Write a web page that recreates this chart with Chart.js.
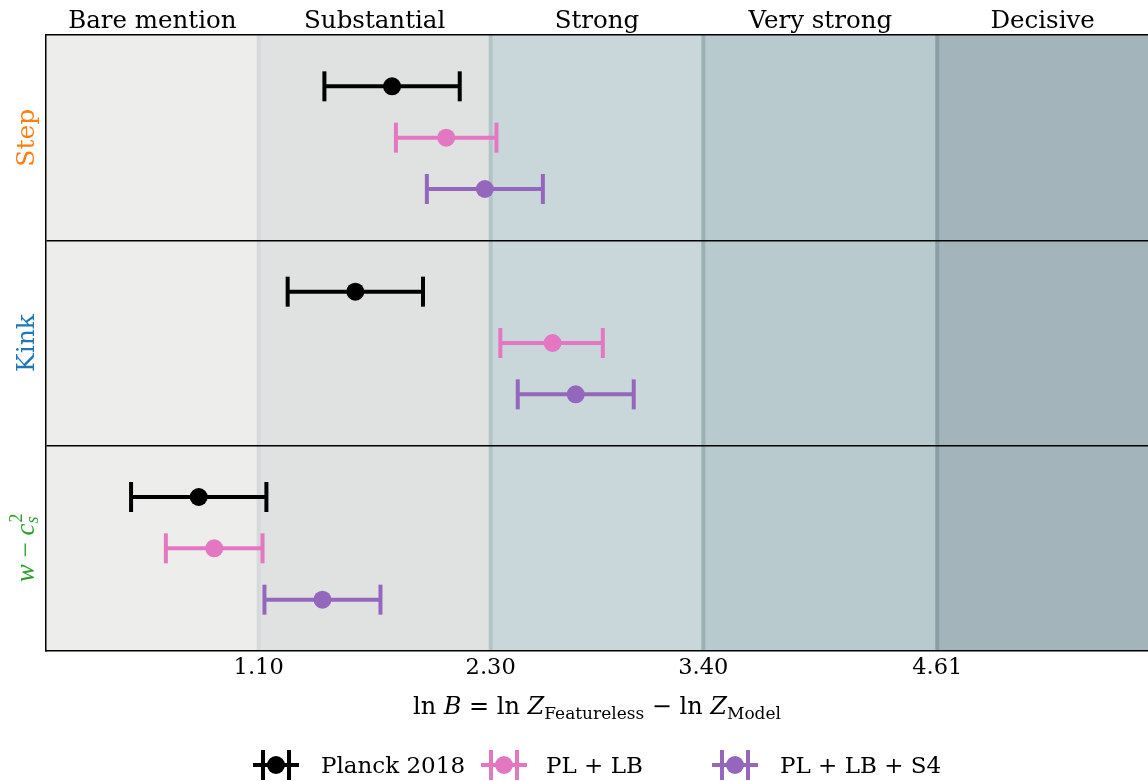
<!DOCTYPE html>
<html>
<head>
<meta charset="utf-8">
<script src="https://cdn.jsdelivr.net/npm/chart.js@4.4.1/dist/chart.umd.min.js"></script>
<style>
    body { margin: 0; background: #fff; overflow: hidden; }
    #wrap { position: relative; width: 1148px; height: 781px; overflow: hidden; }
    #chart { position: absolute; left: 0; top: 0; }
    .leg-icon { position: absolute; top: 749px; }
    .leg-text { position: absolute; top: 751px; font: 23px "DejaVu Serif"; color: #000; line-height: 28px; white-space: nowrap; }
</style>
</head>
<body>
<div id="wrap">
    <canvas id="chart" width="1148" height="781"></canvas>
    <div id="legend"></div>
</div>
<script>
// Bayes factor scale (Jeffreys)
const bandEdges = [0, 1.10, 2.30, 3.40, 4.61, 5.70];
const bandNames = ['Bare mention', 'Substantial', 'Strong', 'Very strong', 'Decisive'];
const xTickValues = [1.10, 2.30, 3.40, 4.61];

const models = ['Step', 'Kink', 'w - cs2'];
const seriesNames = ['Planck 2018', 'PL + LB', 'PL + LB + S4'];

// ln B per model (Step, Kink, w - cs2)
const planckMean = [1.79, 1.60, 0.79];
const planckLow  = [1.44, 1.25, 0.44];
const planckHigh = [2.14, 1.95, 1.14];

const plLbMean = [2.07, 2.62, 0.87];
const plLbLow  = [1.81, 2.35, 0.62];
const plLbHigh = [2.33, 2.88, 1.12];

const s4Mean = [2.27, 2.74, 1.43];
const s4Low  = [1.97, 2.44, 1.13];
const s4High = [2.57, 3.04, 1.73];

// styles
const SERIES_COLORS = ['#000000', '#e377c2', '#9467bd'];
const MODEL_COLORS = ['#ff7f0e', '#1f77b4', '#2ca02c'];
const BAND_COLORS = ['#ededeb', '#e0e2e1', '#c9d7db', '#b8cace', '#a3b5ba'];
const EDGE_COLORS = ['#d5d9d9', '#b3c4c8', '#9cb1b6', '#8a9fa5'];
const LEGEND_ICON_X = [253, 481, 712];
const LEGEND_TEXT_X = [321, 546, 780];
const SERIF = '"DejaVu Serif"';
const MATH = '"Liberation Serif"';

const means = [planckMean, plLbMean, s4Mean];
const lows = [planckLow, plLbLow, s4Low];
const highs = [planckHigh, plLbHigh, s4High];

// row of a given model / series inside the 0..3 y range
function rowOf(m, s) {
    return m + (s + 1) * 0.25;
}

const datasets = [];
seriesNames.forEach((name, s) => {
    datasets.push({
        type: 'scatter',
        label: name,
        data: models.map((_, m) => ({ x: means[s][m], y: rowOf(m, s) })),
        backgroundColor: SERIES_COLORS[s],
        borderWidth: 0,
        pointRadius: 9,
        pointHoverRadius: 9,
        order: 1,
    });
    models.forEach((_, m) => {
        datasets.push({
            type: 'line',
            label: name + ' err',
            data: [
                { x: lows[s][m], y: rowOf(m, s) },
                { x: highs[s][m], y: rowOf(m, s) },
            ],
            borderColor: SERIES_COLORS[s],
            borderWidth: 4,
            pointStyle: 'line',
            pointRotation: 90,
            pointRadius: 15,
            pointHoverRadius: 15,
            pointBorderWidth: 4,
            pointBorderColor: SERIES_COLORS[s],
            fill: false,
            tension: 0,
            order: 2,
        });
    });
});

// draw a run of text pieces left to right from (x, baseline y)
function runWidth(ctx, parts) {
    let w = 0;
    for (const p of parts) {
        if (p.stack) {
            ctx.font = p.supFont;
            const a = ctx.measureText(p.sup).width;
            ctx.font = p.subFont;
            const b = ctx.measureText(p.sub).width;
            w += Math.max(a, b);
        } else {
            ctx.font = p.font;
            w += ctx.measureText(p.t).width;
        }
    }
    return w;
}

function drawRun(ctx, parts, x, y) {
    ctx.textAlign = 'left';
    ctx.textBaseline = 'alphabetic';
    for (const p of parts) {
        if (p.stack) {
            ctx.font = p.supFont;
            const a = ctx.measureText(p.sup).width;
            ctx.fillText(p.sup, x + 1, y - p.up);
            ctx.font = p.subFont;
            const b = ctx.measureText(p.sub).width;
            ctx.fillText(p.sub, x, y + p.down);
            x += Math.max(a, b);
        } else {
            ctx.font = p.font;
            ctx.fillText(p.t, x, y + (p.dy || 0));
            x += ctx.measureText(p.t).width;
        }
    }
}

// no automatic label padding, so the plot area keeps its exact box
function noPad(scale) {
    scale.paddingLeft = 0;
    scale.paddingRight = 0;
    scale.paddingTop = 0;
    scale.paddingBottom = 0;
}

const bandsPlugin = {
    id: 'bands',
    beforeDraw(chart) {
        const { ctx, chartArea: { top, bottom }, scales: { x } } = chart;
        ctx.save();
        for (let i = 0; i < bandNames.length; i++) {
            const x0 = x.getPixelForValue(bandEdges[i]);
            const x1 = x.getPixelForValue(bandEdges[i + 1]);
            ctx.fillStyle = BAND_COLORS[i];
            ctx.fillRect(x0, top, x1 - x0 + 1, bottom - top);
        }
        ctx.lineWidth = 4;
        for (let i = 1; i < bandNames.length; i++) {
            const px = x.getPixelForValue(bandEdges[i]);
            ctx.strokeStyle = EDGE_COLORS[i - 1];
            ctx.beginPath();
            ctx.moveTo(px, top);
            ctx.lineTo(px, bottom);
            ctx.stroke();
        }
        ctx.restore();
    },
};

const labelsPlugin = {
    id: 'labels',
    afterDraw(chart) {
        const { ctx, chartArea, scales: { x, y } } = chart;
        ctx.save();

        // model labels on the left, rotated
        models.forEach((name, m) => {
            const cy = y.getPixelForValue(m + 0.5);
            ctx.save();
            ctx.translate(34, cy);
            ctx.rotate(-Math.PI / 2);
            ctx.fillStyle = MODEL_COLORS[m];
            let parts;
            if (m === 2) {
                parts = [
                    { t: 'w', font: 'italic 27px ' + MATH },
                    { t: ' \u2212 ', font: '27px ' + MATH },
                    { t: 'c', font: 'italic 27px ' + MATH },
                    { stack: true, sup: '2', sub: 's', supFont: '18px ' + MATH, subFont: 'italic 18px ' + MATH, up: 12, down: 4 },
                ];
            } else {
                parts = [{ t: name, font: '25px ' + SERIF }];
            }
            drawRun(ctx, parts, -runWidth(ctx, parts) / 2, 0);
            ctx.restore();
        });

        // x axis title
        const R = '24px ' + SERIF, I = 'italic 24px ' + SERIF, S = '17px ' + SERIF;
        const title = [
            { t: 'ln ', font: R }, { t: 'B', font: I }, { t: ' = ', font: R },
            { t: 'ln ', font: R }, { t: 'Z', font: I }, { t: 'Featureless', font: S, dy: 5 },
            { t: ' \u2212 ', font: R },
            { t: 'ln ', font: R }, { t: 'Z', font: I }, { t: 'Model', font: S, dy: 5 },
        ];
        ctx.fillStyle = '#000';
        const cx = (chartArea.left + chartArea.right) / 2;
        drawRun(ctx, title, cx - runWidth(ctx, title) / 2, 714);
        ctx.restore();
    },
};

new Chart(document.getElementById('chart'), {
    data: { datasets },
    options: {
        responsive: false,
        animation: false,
        layout: { padding: 0, autoPadding: false },
        plugins: {
            legend: { display: false },
            tooltip: { enabled: false },
        },
        scales: {
            x: {
                type: 'linear',
                position: 'bottom',
                min: 0,
                max: 5.7,
                grid: { display: false, drawTicks: false },
                border: { display: true, color: '#000', width: 1.5 },
                afterBuildTicks: (scale) => { scale.ticks = xTickValues.map(v => ({ value: v })); },
                ticks: {
                    color: '#000',
                    font: { family: 'DejaVu Serif', size: 22.5 },
                    padding: 4,
                    maxRotation: 0,
                    autoSkip: false,
                    callback: (v) => Number(v).toFixed(2),
                },
                afterFit: (scale) => { scale.height = 130; noPad(scale); },
            },
            x2: {
                type: 'linear',
                position: 'top',
                min: 0,
                max: 5.7,
                grid: { display: false, drawTicks: false },
                border: { display: true, color: '#000', width: 1.5 },
                afterBuildTicks: (scale) => {
                    scale.ticks = bandNames.map((_, i) => ({ value: (bandEdges[i] + bandEdges[i + 1]) / 2 }));
                },
                ticks: {
                    color: '#000',
                    font: { family: 'DejaVu Serif', size: 24.5 },
                    padding: -1,
                    maxRotation: 0,
                    autoSkip: false,
                    callback: (v, i) => bandNames[i],
                },
                afterFit: (scale) => { scale.height = 35; noPad(scale); },
            },
            y: {
                type: 'linear',
                min: 0,
                max: 3,
                reverse: true,
                grid: {
                    drawTicks: false,
                    lineWidth: 1.5,
                    color: (ctx) => (ctx.tick && (ctx.tick.value === 1 || ctx.tick.value === 2)) ? '#000' : 'rgba(0,0,0,0)',
                },
                border: { display: true, color: '#000', width: 1.5 },
                ticks: { display: false, stepSize: 1 },
                afterFit: (scale) => { scale.width = 46; noPad(scale); },
            },
        },
    },
    plugins: [bandsPlugin, labelsPlugin],
});

// legend with error-bar icons
const legend = document.getElementById('legend');
seriesNames.forEach((name, s) => {
    const c = SERIES_COLORS[s];
    const icon = document.createElement('div');
    icon.className = 'leg-icon';
    icon.style.left = LEGEND_ICON_X[s] + 'px';
    icon.innerHTML =
        `<svg width="46" height="32" viewBox="0 0 46 32">` +
        `<line x1="0" y1="16" x2="46" y2="16" stroke="${c}" stroke-width="4"/>` +
        `<line x1="10" y1="1" x2="10" y2="31" stroke="${c}" stroke-width="4"/>` +
        `<line x1="36" y1="1" x2="36" y2="31" stroke="${c}" stroke-width="4"/>` +
        `<circle cx="23" cy="16" r="9" fill="${c}"/></svg>`;
    legend.appendChild(icon);
    const text = document.createElement('div');
    text.className = 'leg-text';
    text.style.left = LEGEND_TEXT_X[s] + 'px';
    text.textContent = name;
    legend.appendChild(text);
});
</script>
</body>
</html>
